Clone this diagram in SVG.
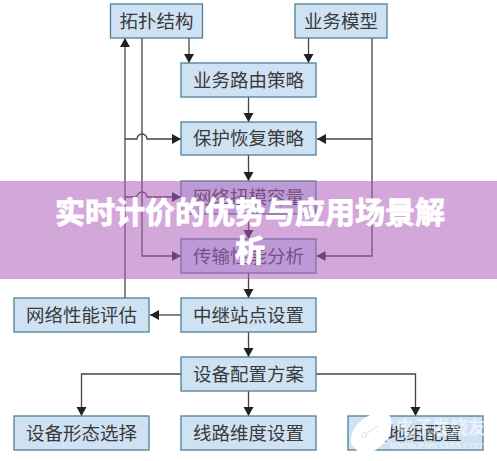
<svg xmlns="http://www.w3.org/2000/svg" width="497" height="461" viewBox="0 0 497 461">
<style>
.b{fill:#cfe2f3;stroke:#4f7f92;stroke-width:1.3}
.t{font-family:"Noto Sans CJK SC","Noto Sans",sans-serif;font-size:18.5px;fill:#3a3a3a;text-anchor:middle}
.c{fill:none;stroke:#444;stroke-width:1.3}
.h{font-family:"Noto Sans CJK SC","Noto Sans",sans-serif;font-size:30px;font-weight:700;fill:#fff;stroke:#fff;stroke-width:.9;text-anchor:middle}
.w{font-family:"Noto Sans CJK SC","Noto Sans",sans-serif;fill:#fff;text-anchor:end}
</style>
<defs>
<marker id="a" markerUnits="userSpaceOnUse" markerWidth="10" markerHeight="11" refX="9" refY="5" orient="auto"><path d="M0 0L9 5L0 10Z" fill="#222"/></marker>
</defs>
<rect width="497" height="461" fill="#fff"/>
<g id="connectors">
<path class="c" d="M189 38V63" marker-end="url(#a)"/>
<path class="c" d="M308.500 38V63" marker-end="url(#a)"/>
<path class="c" d="M248.500 97V122" marker-end="url(#a)"/>
<path class="c" d="M248.500 155V181" marker-end="url(#a)"/>
<path class="c" d="M248.500 214V239" marker-end="url(#a)"/>
<path class="c" d="M248.500 273V298" marker-end="url(#a)"/>
<path class="c" d="M248.500 332V357" marker-end="url(#a)"/>
<path class="c" d="M248.500 391V416" marker-end="url(#a)"/>
<path class="c" d="M181 315H150" marker-end="url(#a)"/>
<path class="c" d="M125 298V38" marker-end="url(#a)"/>
<path class="c" d="M142 38V256H181" marker-end="url(#a)"/>
<path class="c" d="M125 139H137a5 5 0 0 1 10 0H181" marker-end="url(#a)"/>
<path class="c" d="M125 197H137a5 5 0 0 1 10 0H181" marker-end="url(#a)"/>
<path class="c" d="M372 38V256H316.500" marker-end="url(#a)"/>
<path class="c" d="M372 139H317" marker-end="url(#a)"/>
<path class="c" d="M181 374H81.500V416" marker-end="url(#a)"/>
<path class="c" d="M316 374H415.500V416" marker-end="url(#a)"/>
</g>
<g id="n1"><rect class="b" x="110.500" y="4" width="92" height="34"/><text class="t" x="156.500" y="28">拓扑结构</text></g>
<g id="n2"><rect class="b" x="295" y="4" width="92" height="34"/><text class="t" x="341" y="28">业务模型</text></g>
<g id="n3"><rect class="b" x="181" y="63" width="135" height="34"/><text class="t" x="248.500" y="87">业务路由策略</text></g>
<g id="n4"><rect class="b" x="181" y="122" width="135" height="33"/><text class="t" x="248.500" y="145">保护恢复策略</text></g>
<g id="n5"><rect class="b" x="181" y="181" width="135" height="33"/><text class="t" x="248.500" y="204">网络扭模容量</text></g>
<g id="n6"><rect class="b" x="181" y="239" width="135" height="34"/><text class="t" x="248.500" y="263">传输性能分析</text></g>
<g id="n7"><rect class="b" x="14" y="298" width="135" height="34"/><text class="t" x="81.500" y="322">网络性能评估</text></g>
<g id="n8"><rect class="b" x="181" y="298" width="135" height="34"/><text class="t" x="248.500" y="322">中继站点设置</text></g>
<g id="n9"><rect class="b" x="181" y="357" width="135" height="34"/><text class="t" x="248.500" y="381">设备配置方案</text></g>
<g id="n10"><rect class="b" x="14" y="416" width="135" height="34"/><text class="t" x="81.500" y="440">设备形态选择</text></g>
<g id="n11"><rect class="b" x="181" y="416" width="135" height="34"/><text class="t" x="248.500" y="440">线路维度设置</text></g>
<g id="n12"><rect class="b" x="348" y="416" width="135" height="34"/><text class="t" x="415.500" y="440">接地组配置</text></g>
<g id="watermark">
<path d="M351 444Q349 425 372 414L386 411Q396 420 388 438Q378 452 362 456Z" fill="#fff"/>
<circle cx="364" cy="435" r="2.500" fill="none" stroke="#cfe2f3"/>
<path d="M366 434L378 426" stroke="#cfe2f3" fill="none"/>
<text class="w" x="486" y="434" font-size="18" font-weight="700" opacity=".6">电子发烧友</text>
<text class="w" x="486" y="449" font-size="11" opacity=".6">www.elecfans.com</text>
</g>
<rect id="band" x="0" y="181" width="497" height="98" fill="#ae5fbb" opacity=".55"/>
<text class="h" x="250" y="223">实时计价的优势与应用场景解</text>
<text class="h" x="250" y="261">析</text>
</svg>
